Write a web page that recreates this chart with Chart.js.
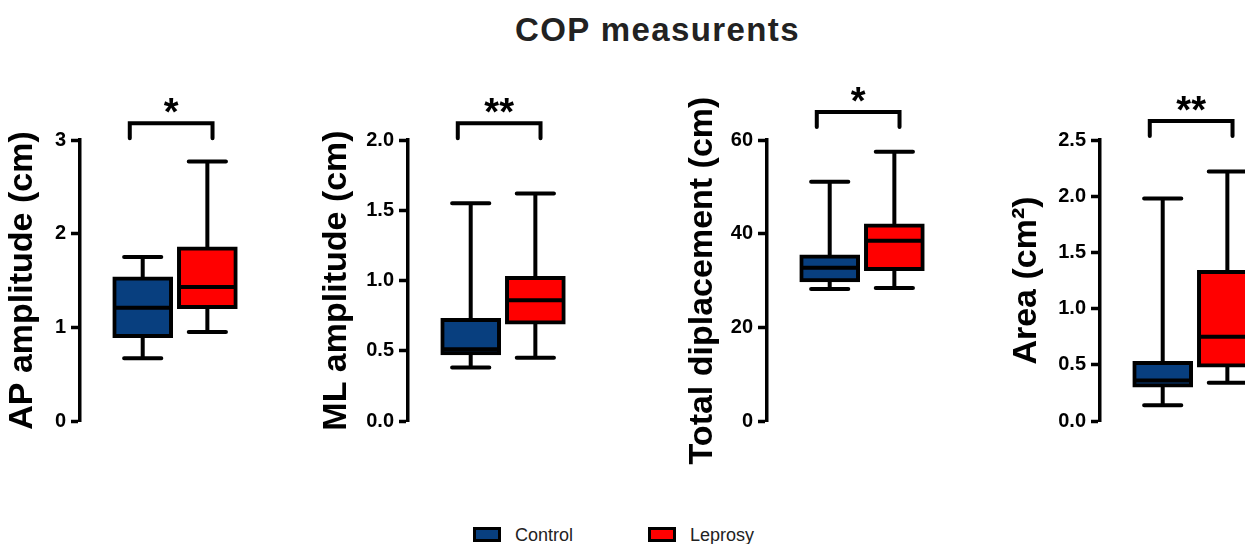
<!DOCTYPE html>
<html>
<head>
<meta charset="utf-8">
<title>COP measurents</title>
<script src="https://cdn.jsdelivr.net/npm/chart.js@4.4.1/dist/chart.umd.min.js"></script>
<style>
  html, body { margin: 0; padding: 0; width: 1245px; height: 544px; overflow: hidden; background: #fff; }
  body { position: relative; font-family: 'Liberation Sans', Arial, sans-serif; }
  #title { position: absolute; left: 515px; top: 13px; font-size: 33px; line-height: 34px; font-weight: bold; color: #222; letter-spacing: 1.4px; white-space: nowrap; }
  .panel { position: absolute; top: 60px; height: 440px; }
  .key { position: absolute; top: 527px; height: 17px; white-space: nowrap; }
  .key .swatch { position: absolute; left: 0; top: 0; width: 22px; height: 9px; border: 3.5px solid #000; }
  .key .label { position: absolute; left: 42px; top: -2px; font-size: 18px; line-height: 20px; color: #222; }
</style>
</head>
<body>
<div id="title">COP measurents</div>
<div class="panel" id="p0"><canvas id="c0"></canvas></div>
<div class="panel" id="p1"><canvas id="c1"></canvas></div>
<div class="panel" id="p2"><canvas id="c2"></canvas></div>
<div class="panel" id="p3"><canvas id="c3"></canvas></div>
<div id="legend"></div>
<script>
// groups and colours
const categories = ["Control", "Leprosy"];
const boxColors = ["#083f7f", "#ff0000"];

// y axis titles of the four panels
const axisTitles = ["AP amplitude (cm)", "ML amplitude (cm)", "Total diplacement (cm)", "Area (cm²)"];

// box plot values: [min, q1, median, q3, max]
const apControl = [0.67, 0.89, 1.21, 1.54, 1.75];
const apLeprosy = [0.95, 1.20, 1.43, 1.86, 2.77];
const mlControl = [0.38, 0.47, 0.51, 0.73, 1.55];
const mlLeprosy = [0.45, 0.69, 0.86, 1.03, 1.62];
const totalControl = [28.2, 29.7, 32.7, 35.5, 51.1];
const totalLeprosy = [28.4, 32.1, 38.5, 42.1, 57.5];
const areaControl = [0.14, 0.30, 0.36, 0.53, 1.98];
const areaLeprosy = [0.34, 0.48, 0.75, 1.34, 2.22];

// axis ranges and tick labels
const axisMax = [3, 2, 60, 2.5];
const axisStep = [1, 0.5, 20, 0.5];
const tickDecimals = [0, 1, 0, 1];

// significance marks and the level of their bracket (axis units)
const significance = ["*", "**", "*", "**"];
const bracketLevel = [3.18, 2.12, 66, 2.67];

const panelStats = [
    [apControl, apLeprosy],
    [mlControl, mlLeprosy],
    [totalControl, totalLeprosy],
    [areaControl, areaLeprosy]
];

// where each panel sits on the page: left edge and y axis width
const panelLeft = [6, 320, 686, 1010];
const axisWidth = [74, 88, 81, 90];
const plotWidth = 192;

Chart.defaults.font.family = "'Liberation Sans', Arial, sans-serif";
Chart.defaults.color = "#000";

const LINE = 4;

// whiskers, medians and the significance bracket
const boxPlotParts = {
    id: "boxPlotParts",
    beforeDatasetsDraw(chart) {
        const ctx = chart.ctx;
        const y = chart.scales.y;
        const stats = chart.data.datasets[0].stats;
        ctx.save();
        ctx.strokeStyle = "#000";
        ctx.lineWidth = LINE;
        ctx.lineCap = "round";
        chart.getDatasetMeta(0).data.forEach((bar, i) => {
            const s = stats[i];
            const cap = bar.width * 0.31;
            const yMin = y.getPixelForValue(s[0]);
            const yQ1 = y.getPixelForValue(s[1]);
            const yQ3 = y.getPixelForValue(s[3]);
            const yMax = y.getPixelForValue(s[4]);
            ctx.beginPath();
            ctx.moveTo(bar.x, yQ1);
            ctx.lineTo(bar.x, yMin);
            ctx.moveTo(bar.x - cap, yMin);
            ctx.lineTo(bar.x + cap, yMin);
            ctx.moveTo(bar.x, yQ3);
            ctx.lineTo(bar.x, yMax);
            ctx.moveTo(bar.x - cap, yMax);
            ctx.lineTo(bar.x + cap, yMax);
            ctx.stroke();
        });
        ctx.restore();
    },
    afterDatasetsDraw(chart) {
        const ctx = chart.ctx;
        const y = chart.scales.y;
        const stats = chart.data.datasets[0].stats;
        ctx.save();
        ctx.strokeStyle = "#000";
        ctx.lineWidth = LINE;
        chart.getDatasetMeta(0).data.forEach((bar, i) => {
            const yMed = y.getPixelForValue(stats[i][2]);
            ctx.beginPath();
            ctx.moveTo(bar.x - bar.width / 2 + 1, yMed);
            ctx.lineTo(bar.x + bar.width / 2 - 1, yMed);
            ctx.stroke();
        });
        ctx.restore();
    },
    afterDraw(chart, args, opts) {
        const ctx = chart.ctx;
        const x = chart.scales.x;
        const y = chart.scales.y;
        const x1 = x.getPixelForValue(0.8);
        const x2 = x.getPixelForValue(2.08);
        const yb = y.getPixelForValue(opts.level);
        ctx.save();
        ctx.strokeStyle = "#000";
        ctx.lineWidth = LINE;
        ctx.lineJoin = "miter";
        ctx.lineCap = "round";
        ctx.beginPath();
        ctx.moveTo(x1, yb + 15);
        ctx.lineTo(x1, yb);
        ctx.lineTo(x2, yb);
        ctx.lineTo(x2, yb + 15);
        ctx.stroke();
        ctx.fillStyle = "#000";
        ctx.font = "bold 38px 'Liberation Sans', Arial, sans-serif";
        ctx.textAlign = "center";
        ctx.textBaseline = "alphabetic";
        ctx.fillText(opts.mark, (x1 + x2) / 2, yb + 2);
        ctx.restore();
    }
};

panelStats.forEach((stats, k) => {
    const wrap = document.getElementById("p" + k);
    wrap.style.left = panelLeft[k] + "px";
    wrap.style.width = (axisWidth[k] + plotWidth) + "px";

    new Chart(document.getElementById("c" + k).getContext("2d"), {
        type: "bar",
        data: {
            datasets: [{
                label: axisTitles[k],
                data: categories.map((c, i) => ({ x: i + 1, y: [stats[i][1], stats[i][3]] })),
                stats: stats,
                backgroundColor: boxColors,
                borderColor: "#000",
                borderWidth: LINE,
                borderSkipped: false,
                barThickness: 60
            }]
        },
        options: {
            responsive: true,
            maintainAspectRatio: false,
            animation: false,
            layout: { padding: { top: 80, bottom: 79, left: 0, right: 0 } },
            plugins: {
                legend: { display: false },
                tooltip: {
                    callbacks: {
                        title: (items) => categories[items[0].dataIndex],
                        label: (item) => {
                            const s = stats[item.dataIndex];
                            return `min ${s[0]}, Q1 ${s[1]}, median ${s[2]}, Q3 ${s[3]}, max ${s[4]}`;
                        }
                    }
                },
                boxPlotParts: { level: bracketLevel[k], mark: significance[k] }
            },
            scales: {
                x: { type: "linear", display: false, offset: false, min: 0.03, max: 3 },
                y: {
                    min: 0,
                    max: axisMax[k],
                    afterFit: (scale) => { scale.width = axisWidth[k]; },
                    ticks: {
                        stepSize: axisStep[k],
                        padding: 5,
                        color: "#000",
                        font: { size: 20, weight: "bold" },
                        callback: (v) => Number(v).toFixed(tickDecimals[k])
                    },
                    grid: {
                        drawOnChartArea: false,
                        drawTicks: true,
                        tickLength: 9,
                        tickWidth: 3.5,
                        tickColor: "#000"
                    },
                    border: { display: true, color: "#000", width: 3.5 },
                    title: {
                        display: true,
                        text: axisTitles[k],
                        color: "#000",
                        padding: 0,
                        font: { size: 34, weight: "bold", lineHeight: 1 }
                    }
                }
            }
        },
        plugins: [boxPlotParts]
    });
});

// legend under the panels
const legendLeft = [473, 648];
const legend = document.getElementById("legend");
categories.forEach((name, i) => {
    const key = document.createElement("div");
    key.className = "key";
    key.style.left = legendLeft[i] + "px";
    key.innerHTML = `<span class="swatch" style="background:${boxColors[i]}"></span><span class="label">${name}</span>`;
    legend.appendChild(key);
});
</script>
</body>
</html>
